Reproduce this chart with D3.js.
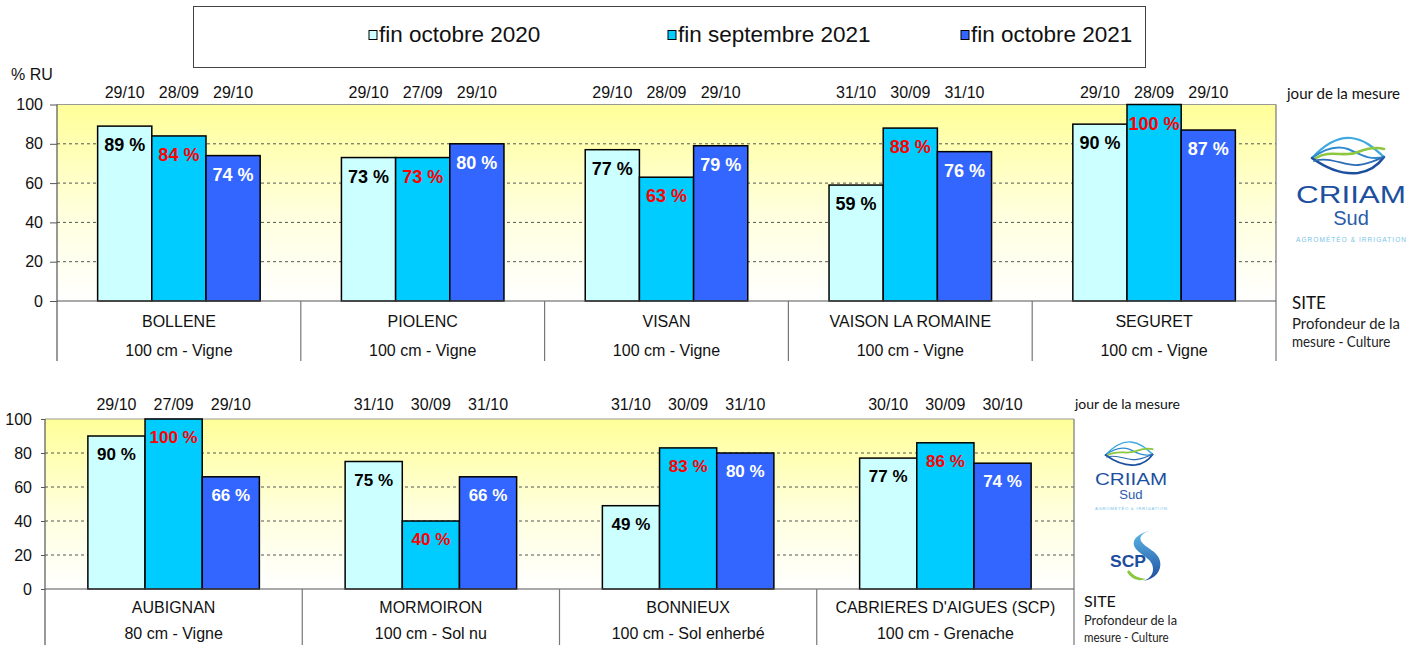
<!DOCTYPE html>
<html><head><meta charset="utf-8">
<script src="https://cdn.jsdelivr.net/npm/d3@7"></script>
<style>
body{margin:0;background:#fff;}
svg{display:block;font-family:"Liberation Sans",Arial,sans-serif;}
</style>
</head><body>
<svg id="c" width="1414" height="645"></svg>
<script>
// ---------- DATA ----------
const seriesNames = ["fin octobre 2020", "fin septembre 2021", "fin octobre 2021"];
const seriesColors = ["#CCFFFF", "#00CCFF", "#3366FF"];
const valueLabelColors = ["#000000", "#FF0000", "#FFFFFF"];
const yTicks = [0, 20, 40, 60, 80, 100];

const topSites = ["BOLLENE", "PIOLENC", "VISAN", "VAISON LA ROMAINE", "SEGURET"];
const topDetails = ["100 cm - Vigne", "100 cm - Vigne", "100 cm - Vigne", "100 cm - Vigne", "100 cm - Vigne"];
const topOct2020 = [89, 73, 77, 59, 90];
const topSep2021 = [84, 73, 63, 88, 100];
const topOct2021 = [74, 80, 79, 76, 87];
const topDatesOct2020 = ["29/10", "29/10", "29/10", "31/10", "29/10"];
const topDatesSep2021 = ["28/09", "27/09", "28/09", "30/09", "28/09"];
const topDatesOct2021 = ["29/10", "29/10", "29/10", "31/10", "29/10"];

const bottomSites = ["AUBIGNAN", "MORMOIRON", "BONNIEUX", "CABRIERES D'AIGUES (SCP)"];
const bottomDetails = ["80 cm - Vigne", "100 cm - Sol nu", "100 cm - Sol enherbé", "100 cm - Grenache"];
const bottomOct2020 = [90, 75, 49, 77];
const bottomSep2021 = [100, 40, 83, 86];
const bottomOct2021 = [66, 66, 80, 74];
const bottomDatesOct2020 = ["29/10", "31/10", "31/10", "30/10"];
const bottomDatesSep2021 = ["27/09", "30/09", "30/09", "30/09"];
const bottomDatesOct2021 = ["29/10", "31/10", "31/10", "30/10"];

const yAxisTitle = "% RU";
const dateCaption = "jour de la mesure";
const siteCaption = ["SITE", "Profondeur de la", "mesure - Culture"];

// ---------- DRAW ----------
const svg = d3.select("#c");
const defs = svg.append("defs");
const bg = defs.append("linearGradient").attr("id", "bg").attr("x1", 0).attr("y1", 0).attr("x2", 0).attr("y2", 1);
bg.append("stop").attr("offset", "0%").attr("stop-color", "#FFFF99");
bg.append("stop").attr("offset", "55%").attr("stop-color", "#FFFFDD");
bg.append("stop").attr("offset", "100%").attr("stop-color", "#FFFFFF");
const sg = defs.append("linearGradient").attr("id", "scpg").attr("x1", 0).attr("y1", 0).attr("x2", 0).attr("y2", 1);
sg.append("stop").attr("offset", "0%").attr("stop-color", "#5BB8E8");
sg.append("stop").attr("offset", "100%").attr("stop-color", "#1E4C9E");

function panel(cfg) {
  const x0 = d3.scaleBand().domain(cfg.sites).range([cfg.left, cfg.right]).padding(0);
  const bw = x0.bandwidth();
  const x1 = d3.scaleBand().domain([0, 1, 2]).range([bw / 6, bw * 5 / 6]).padding(0);
  const y = d3.scaleLinear().domain([0, 100]).range([cfg.bottom, cfg.top]);
  const g = svg.append("g");

  g.append("rect").attr("x", cfg.left).attr("y", cfg.top)
    .attr("width", cfg.right - cfg.left).attr("height", cfg.bottom - cfg.top)
    .attr("fill", "url(#bg)");

  g.selectAll("line.grid").data([20, 40, 60, 80]).join("line").attr("class", "grid")
    .attr("x1", cfg.left).attr("x2", cfg.right)
    .attr("y1", d => y(d)).attr("y2", d => y(d))
    .attr("stroke", "#555").attr("stroke-width", 1).attr("stroke-dasharray", "3,3");

  // plot border (top, right)
  g.append("line").attr("x1", cfg.left).attr("x2", cfg.right).attr("y1", cfg.top).attr("y2", cfg.top)
    .attr("stroke", "#999").attr("stroke-width", 1.2);
  g.append("line").attr("x1", cfg.right).attr("x2", cfg.right).attr("y1", cfg.top).attr("y2", cfg.sepBottom)
    .attr("stroke", "#777").attr("stroke-width", 1.2);

  const rows = [];
  cfg.sites.forEach((s, i) => {
    cfg.series.forEach((arr, k) => {
      rows.push({ site: s, k: k, v: arr[i], date: cfg.dates[k][i] });
    });
  });

  const bars = g.append("g").selectAll("g").data(rows).join("g")
    .attr("transform", d => `translate(${x0(d.site) + x1(d.k)},0)`);
  bars.append("rect")
    .attr("x", 0).attr("width", x1.bandwidth())
    .attr("y", d => y(d.v)).attr("height", d => y(0) - y(d.v))
    .attr("fill", d => seriesColors[d.k]).attr("stroke", "#000").attr("stroke-width", 1.5);
  bars.append("text")
    .attr("x", x1.bandwidth() / 2).attr("y", d => y(d.v) + cfg.valueOffset)
    .attr("text-anchor", "middle").attr("font-weight", "bold").attr("font-size", cfg.valueSize)
    .attr("fill", d => valueLabelColors[d.k])
    .text(d => d.v + " %");
  bars.append("text")
    .attr("x", x1.bandwidth() / 2).attr("y", cfg.dateY)
    .attr("text-anchor", "middle").attr("font-size", 16).attr("fill", "#111")
    .text(d => d.date);

  // y axis
  const ax = g.append("g").attr("transform", `translate(${cfg.left},0)`)
    .call(d3.axisLeft(y).tickValues(yTicks).tickSize(cfg.tickSize).tickPadding(cfg.tickPad).tickSizeOuter(0));
  ax.select(".domain").remove();
  ax.selectAll("line").attr("stroke", "#555");
  ax.selectAll("text").attr("font-size", 16).attr("fill", "#111")
    .attr("font-family", '"Liberation Sans",Arial,sans-serif');
  g.append("line").attr("x1", cfg.left).attr("x2", cfg.left).attr("y1", cfg.top).attr("y2", cfg.sepBottom)
    .attr("stroke", "#555").attr("stroke-width", 1.2);

  // category axis
  g.append("line").attr("x1", cfg.left).attr("x2", cfg.right).attr("y1", cfg.bottom).attr("y2", cfg.bottom)
    .attr("stroke", "#555").attr("stroke-width", 1.2);
  g.selectAll("line.sep").data(cfg.sites.slice(1)).join("line").attr("class", "sep")
    .attr("x1", d => x0(d)).attr("x2", d => x0(d))
    .attr("y1", cfg.bottom).attr("y2", cfg.sepBottom)
    .attr("stroke", "#777").attr("stroke-width", 1.2);
  g.selectAll("text.site").data(cfg.sites).join("text").attr("class", "site")
    .attr("x", d => x0(d) + bw / 2).attr("y", cfg.siteY)
    .attr("text-anchor", "middle").attr("font-size", 16).attr("fill", "#111").text(d => d);
  g.selectAll("text.det").data(cfg.details).join("text").attr("class", "det")
    .attr("x", (d, i) => x0(cfg.sites[i]) + bw / 2).attr("y", cfg.detY)
    .attr("text-anchor", "middle").attr("font-size", 16).attr("fill", "#111").text(d => d);
}

panel({
  sites: topSites, details: topDetails,
  series: [topOct2020, topSep2021, topOct2021],
  dates: [topDatesOct2020, topDatesSep2021, topDatesOct2021],
  left: 57, right: 1276, top: 104.5, bottom: 301, sepBottom: 361,
  dateY: 98, siteY: 327, detY: 356, valueSize: 18, valueOffset: 25,
  tickSize: 7, tickPad: 7
});
panel({
  sites: bottomSites, details: bottomDetails,
  series: [bottomOct2020, bottomSep2021, bottomOct2021],
  dates: [bottomDatesOct2020, bottomDatesSep2021, bottomDatesOct2021],
  left: 45, right: 1074, top: 419, bottom: 589, sepBottom: 645,
  dateY: 410, siteY: 613, detY: 639, valueSize: 17, valueOffset: 24,
  tickSize: 4, tickPad: 9
});

// y title
svg.append("text").attr("x", 11).attr("y", 80).attr("font-size", 16).attr("fill", "#111").text(yAxisTitle);

// legend
svg.append("rect").attr("x", 193.5).attr("y", 6.5).attr("width", 952).attr("height", 61)
  .attr("fill", "#fff").attr("stroke", "#444").attr("stroke-width", 1);
const legX = [369, 668, 961];
const leg = svg.append("g").selectAll("g").data(seriesNames).join("g")
  .attr("transform", (d, i) => `translate(${legX[i]},0)`);
leg.append("rect").attr("x", 0).attr("y", 30.5).attr("width", 8).attr("height", 9)
  .attr("fill", (d, i) => seriesColors[i]).attr("stroke", "#000").attr("stroke-width", 1);
leg.append("text").attr("x", 10).attr("y", 42).attr("font-size", 22.5).attr("fill", "#111").text(d => d);

// right captions (Calibri-like)
const capFont = 'Lato,"Open Sans",sans-serif';
function captions(x, yDate, dateW, dateSize, ySite, siteSize, yP1, yP2, pSize, pW) {
  svg.append("text").attr("x", x.d).attr("y", yDate).attr("font-family", capFont).attr("font-size", dateSize)
    .attr("fill", "#111").attr("textLength", dateW).attr("lengthAdjust", "spacingAndGlyphs").text(dateCaption);
  svg.append("text").attr("x", x.s).attr("y", ySite).attr("font-family", capFont).attr("font-size", siteSize)
    .attr("fill", "#111").text(siteCaption[0]);
  svg.append("text").attr("x", x.s).attr("y", yP1).attr("font-family", capFont).attr("font-size", pSize)
    .attr("fill", "#222").attr("textLength", pW).attr("lengthAdjust", "spacingAndGlyphs").text(siteCaption[1]);
  svg.append("text").attr("x", x.s).attr("y", yP2).attr("font-family", capFont).attr("font-size", pSize)
    .attr("fill", "#222").attr("textLength", pW * 0.91).attr("lengthAdjust", "spacingAndGlyphs").text(siteCaption[2]);
}
captions({ d: 1287, s: 1292 }, 99, 113, 15, 309, 17, 329, 347, 14.5, 108);
captions({ d: 1075, s: 1084 }, 409, 105, 14, 607, 16, 625, 642, 13, 93);

// CRIIAM logo
function criiam(ox, oy, sc) {
  const g = svg.append("g").attr("transform", `translate(${ox},${oy}) scale(${sc})`);
  const paths = [
    ["M16,23 C30,8 44,2 55,3 C68,4 78,13 88,22", "#3FA9E0", 2.2],
    ["M16,23 C28,14 40,10 52,14 C62,18 72,26 88,22", "#2E8BD0", 2],
    ["M20,23 C34,14 48,23 62,17 C72,13 80,12 88,14", "#8DC63F", 2.6],
    ["M16,23 C30,33 45,40 62,38 C75,36 83,29 88,22", "#1D4F9F", 2.6],
    ["M18,26 C34,21 48,31 62,30 C74,29 82,24 88,22", "#2B6CB5", 1.8]
  ];
  paths.forEach(p => g.append("path").attr("d", p[0]).attr("fill", "none").attr("stroke", p[1])
    .attr("stroke-width", p[2]).attr("stroke-linecap", "round"));
  g.append("text").attr("x", 0).attr("y", 68).attr("font-family", '"Liberation Sans",Arial,sans-serif')
    .attr("font-size", 24).attr("fill", "#1D4F9F").attr("textLength", 110).attr("lengthAdjust", "spacingAndGlyphs").text("CRIIAM");
  g.append("text").attr("x", 55).attr("y", 90).attr("text-anchor", "middle").attr("font-family", '"Liberation Sans",Arial,sans-serif')
    .attr("font-size", 20).attr("fill", "#2A5CAA").text("Sud");
  g.append("text").attr("x", 0).attr("y", 107).attr("font-family", '"Liberation Sans",Arial,sans-serif')
    .attr("font-size", 6.5).attr("fill", "#7BC3EA").attr("textLength", 110).attr("lengthAdjust", "spacing").text("AGROMÉTÉO & IRRIGATION");
}
criiam(1296, 135, 1);
criiam(1095, 440, 0.655);

// SCP logo
(function () {
  const g = svg.append("g").attr("transform", "translate(1105,528)");
  g.append("path").attr("d", "M44,3 C32,6 25,13 31,21 C37,28 48,31 48,41 C48,47 44,51 38,53 C51,51 57,42 55,33 C53,23 40,20 36,13 C34,8 38,5 44,3 Z")
    .attr("fill", "url(#scpg)");
  g.append("path").attr("d", "M22,44 C26,51 34,54 41,51 C34,50 28,48 24,42 Z").attr("fill", "#8DC63F");
  g.append("text").attr("x", 5).attr("y", 39).attr("font-family", '"Liberation Sans",Arial,sans-serif')
    .attr("font-weight", "bold").attr("font-size", 17).attr("fill", "#1E4C9E")
    .attr("textLength", 36).attr("lengthAdjust", "spacingAndGlyphs").text("SCP");
})();
</script>
</body></html>
